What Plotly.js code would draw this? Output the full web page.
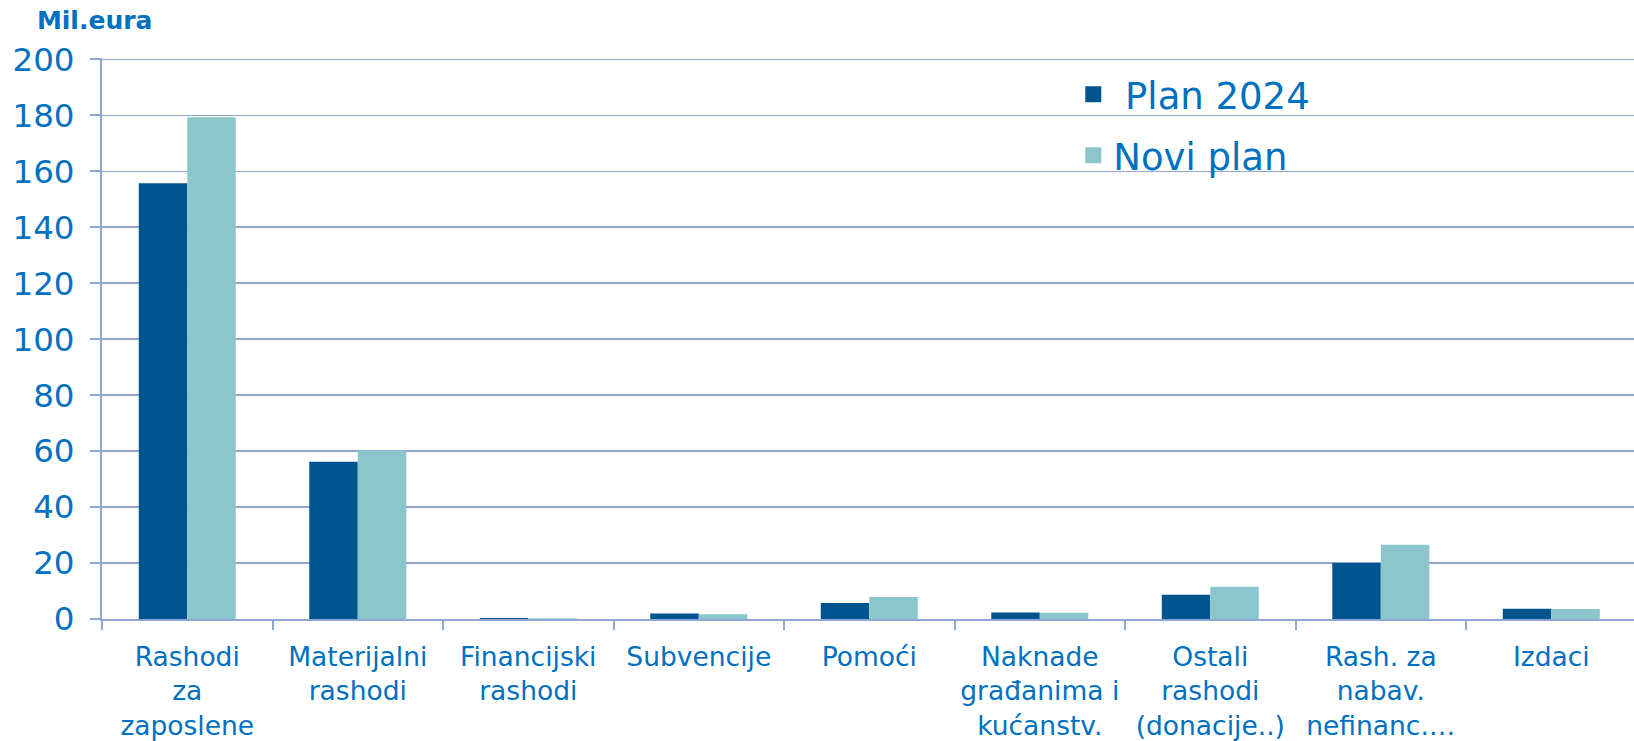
<!DOCTYPE html>
<html>
<head>
<meta charset="utf-8">
<script src="https://cdn.plot.ly/plotly-3.0.1.min.js"></script>
<style>html,body{margin:0;padding:0;background:#fff;}#chart{width:1634px;height:741px;}</style>
</head>
<body>
<div id="chart"></div>
<script>
const categories = [
  "Rashodi<br>za<br>zaposlene",
  "Materijalni<br>rashodi",
  "Financijski<br>rashodi",
  "Subvencije",
  "Pomoći",
  "Naknade<br>građanima i<br>kućanstv.",
  "Ostali<br>rashodi<br>(donacije..)",
  "Rash. za<br>nabav.<br>nefinanc.…",
  "Izdaci"
];
const plan2024 = [155.7, 56.2, 0.4, 2.0, 5.7, 2.3, 8.7, 20.0, 3.7];
const noviPlan = [179.3, 60.2, 0.3, 1.7, 7.9, 2.2, 11.5, 26.5, 3.6];
const seriesNames = ["\u00a0Plan 2024", "Novi plan"];
const seriesColors = ["#00558f", "#8cc6cd"];
const yTitle = "Mil.eura";

const textBlue = "#0070c0";
const gridCol = "#8ea6d2";

const traces = [
  {type: "bar", x: categories, y: plan2024, name: seriesNames[0], marker: {color: seriesColors[0]}, showlegend: false, hoverinfo: "y"},
  {type: "bar", x: categories, y: noviPlan, name: seriesNames[1], marker: {color: seriesColors[1]}, showlegend: false, hoverinfo: "y"},
  {type: "scatter", mode: "markers", x: [null], y: [null], name: seriesNames[0], legendgroup: "a",
   marker: {symbol: "square", size: 21, color: seriesColors[0]}},
  {type: "scatter", mode: "markers", x: [null], y: [null], name: seriesNames[1], legendgroup: "b",
   marker: {symbol: "square", size: 21, color: seriesColors[1]}}
];

const layout = {
  width: 1634, height: 741,
  margin: {l: 102, r: 0, t: 58, b: 122, pad: 0},
  paper_bgcolor: "#ffffff", plot_bgcolor: "#ffffff",
  font: {family: "DejaVu Sans, Verdana, sans-serif", color: textBlue},
  barmode: "group", bargap: 0.431, bargroupgap: 0,
  showlegend: true,
  legend: {x: 0.634, y: 0.99, xanchor: "left", yanchor: "top", bgcolor: "rgba(0,0,0,0)",
           font: {size: 37, color: textBlue}, tracegroupgap: 10, itemsizing: "trace"},
  title: {text: "<b>" + yTitle + "</b>", x: 0.0226, xanchor: "left", xref: "container",
          y: 0.973, yanchor: "middle", yref: "container", font: {size: 25, color: textBlue}},
  xaxis: {
    type: "category", range: [-0.5, 8.485], automargin: false,
    showline: true, linecolor: gridCol, linewidth: 2,
    ticks: "outside", tickson: "boundaries", ticklen: 9, tickwidth: 2, tickcolor: gridCol,
    showgrid: false, zeroline: false,
    ticklabelstandoff: 13,
    tickfont: {size: 26.5, color: textBlue}, tickangle: 0
  },
  yaxis: {
    range: [0, 200.5], dtick: 20, tick0: 0, automargin: false,
    showline: true, linecolor: gridCol, linewidth: 2,
    ticks: "outside", ticklen: 10, tickwidth: 2, tickcolor: gridCol,
    showgrid: true, gridcolor: gridCol, gridwidth: 1.6, zeroline: false,
    ticklabelstandoff: 9,
    tickfont: {size: 32.5, color: textBlue}
  }
};

Plotly.newPlot("chart", traces, layout, {displayModeBar: false, staticPlot: true});
</script>
</body>
</html>
